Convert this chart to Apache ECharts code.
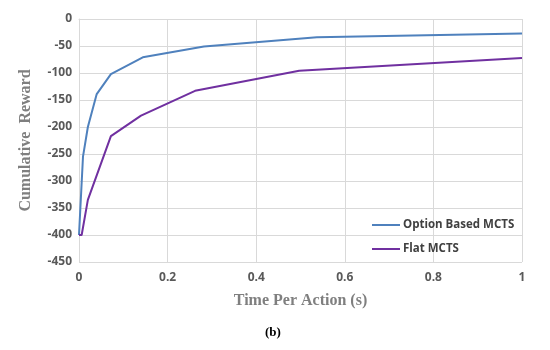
<!DOCTYPE html>
<html><head><meta charset="utf-8">
<script src="https://cdn.jsdelivr.net/npm/echarts@6/dist/echarts.min.js"></script>
<style>html,body{margin:0;padding:0;background:#fff}#c{width:550px;height:350px}</style>
</head><body><div id="c"></div>
<script>
const optionX = [0, 0.009, 0.02, 0.04, 0.072, 0.144, 0.282, 0.537, 1];
const optionY = [-400, -255, -200, -139, -102, -71, -51, -34, -27];
const flatX = [0, 0.006, 0.02, 0.072, 0.14, 0.262, 0.497, 1];
const flatY = [-400, -400, -335, -217, -179, -133, -96, -72];
const seriesNames = ['Option Based MCTS', 'Flat MCTS'];
const xTicks = [0, 0.2, 0.4, 0.6, 0.8, 1];

const pair = (xs, ys) => xs.map((x, i) => [x, ys[i]]);
const chart = echarts.init(document.getElementById('c'));
const tickFont = {fontFamily: 'Open Sans', fontSize: 12, fontWeight: 'bold', color: '#595959'};
const titleFont = {fontFamily: 'Liberation Serif', fontSize: 16, fontWeight: 'bold', color: '#7f7f7f'};
chart.setOption({
  animation: false,
  grid: {left: 79, right: 28, top: 19, bottom: 88},
  xAxis: {
    type: 'value', min: 0, max: 1, interval: 0.2,
    name: 'Time Per Action (s)', nameLocation: 'middle', nameGap: 31,
    nameTextStyle: titleFont,
    axisLine: {show: true, lineStyle: {color: '#d9d9d9'}},
    axisTick: {show: false},
    axisLabel: Object.assign({margin: 10, formatter: v => xTicks.includes(+v.toFixed(1)) ? String(+v.toFixed(1)) : ''}, tickFont),
    splitLine: {show: true, lineStyle: {color: '#d9d9d9'}}
  },
  yAxis: {
    type: 'value', min: -450, max: 0, interval: 50,
    name: 'Cumulative  Reward', nameLocation: 'middle', nameGap: 45, nameRotate: 90,
    nameTextStyle: titleFont,
    axisLine: {show: true, lineStyle: {color: '#d9d9d9'}},
    axisTick: {show: false},
    axisLabel: Object.assign({margin: 7}, tickFont),
    splitLine: {show: true, lineStyle: {color: '#d9d9d9'}}
  },
  legend: {
    orient: 'vertical', left: 367, top: 214, itemGap: 12,
    icon: 'rect', itemWidth: 28, itemHeight: 2,
    textStyle: {fontFamily: 'Open Sans', fontSize: 11.5, fontWeight: 'bold', color: '#404040', padding: [0,0,0,-2]},
    data: seriesNames
  },
  graphic: [{
    type: 'text', left: 265, top: 326,
    style: {text: '(b)', fontFamily: 'Liberation Serif', fontSize: 13, fontWeight: 'bold', fill: '#000'}
  }],
  series: [
    {name: seriesNames[0], type: 'line', data: pair(optionX, optionY), showSymbol: false, symbol: 'none',
     lineStyle: {color: '#4f81bd', width: 2}, itemStyle: {color: '#4f81bd'}},
    {name: seriesNames[1], type: 'line', data: pair(flatX, flatY), showSymbol: false, symbol: 'none',
     lineStyle: {color: '#7030a0', width: 2}, itemStyle: {color: '#7030a0'}}
  ]
});
</script></body></html>
